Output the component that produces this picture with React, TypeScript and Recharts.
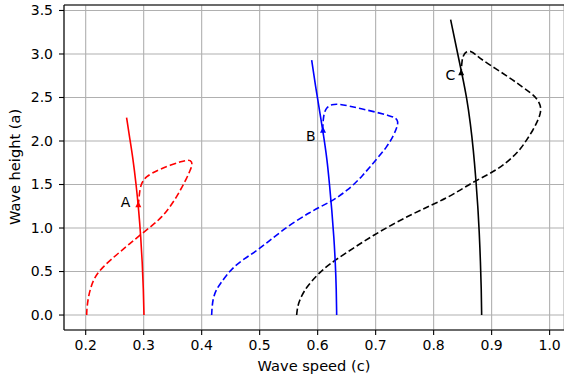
import React from 'react'
import {
  ComposedChart,
  Line,
  Scatter,
  XAxis,
  YAxis,
  CartesianGrid,
  ReferenceLine,
} from 'recharts'

if (typeof document !== 'undefined') document.body.style.margin = '0'

type Pt = { c: number; a: number }

const X_TICKS = [0.2, 0.3, 0.4, 0.5, 0.6, 0.7, 0.8, 0.9, 1.0]
const Y_TICKS = [0, 0.5, 1.0, 1.5, 2.0, 2.5, 3.0, 3.5]
const X_MIN = 0.1626
const X_MAX = 1.0248
const Y_MIN = -0.172
const Y_MAX = 3.563

const LABELS = ['A', 'B', 'C']

// solid branches
const solidA: Pt[] = [
  { c: 0.3005, a: 0 }, { c: 0.2995, a: 0.3 }, { c: 0.2976, a: 0.6 },
  { c: 0.295, a: 0.9 }, { c: 0.2915, a: 1.2 }, { c: 0.287, a: 1.5 },
  { c: 0.2815, a: 1.8 }, { c: 0.2755, a: 2.05 }, { c: 0.2705, a: 2.27 },
]
const solidB: Pt[] = [
  { c: 0.6328, a: 0 }, { c: 0.6322, a: 0.3 }, { c: 0.6305, a: 0.6 },
  { c: 0.628, a: 0.9 }, { c: 0.6245, a: 1.2 }, { c: 0.6205, a: 1.5 },
  { c: 0.616, a: 1.8 }, { c: 0.6105, a: 2.05 }, { c: 0.6045, a: 2.3 },
  { c: 0.597, a: 2.6 }, { c: 0.5897, a: 2.93 },
]
const solidC: Pt[] = [
  { c: 0.8828, a: 0 }, { c: 0.8822, a: 0.3 }, { c: 0.8808, a: 0.6 },
  { c: 0.8786, a: 0.97 }, { c: 0.8762, a: 1.25 }, { c: 0.873, a: 1.55 },
  { c: 0.8685, a: 1.9 }, { c: 0.8635, a: 2.2 }, { c: 0.857, a: 2.5 },
  { c: 0.8495, a: 2.75 }, { c: 0.84, a: 3.05 }, { c: 0.8293, a: 3.395 },
]

// dashed branches (start on the axis, loop back to the arrow)
const dashedA: Pt[] = [
  { c: 0.2017, a: 0 }, { c: 0.2019, a: 0.05 }, { c: 0.2025, a: 0.1 },
  { c: 0.2045, a: 0.2 }, { c: 0.208, a: 0.3 }, { c: 0.2131, a: 0.4 },
  { c: 0.2205, a: 0.48 }, { c: 0.2303, a: 0.555 }, { c: 0.244, a: 0.64 },
  { c: 0.259, a: 0.725 }, { c: 0.276, a: 0.82 }, { c: 0.294, a: 0.92 },
  { c: 0.317, a: 1.04 }, { c: 0.332, a: 1.13 }, { c: 0.345, a: 1.24 },
  { c: 0.357, a: 1.36 }, { c: 0.366, a: 1.47 }, { c: 0.374, a: 1.57 },
  { c: 0.38, a: 1.66 }, { c: 0.3835, a: 1.72 }, { c: 0.383, a: 1.765 },
  { c: 0.378, a: 1.785 }, { c: 0.365, a: 1.765 }, { c: 0.345, a: 1.72 },
  { c: 0.328, a: 1.675 }, { c: 0.314, a: 1.63 }, { c: 0.305, a: 1.59 },
  { c: 0.2995, a: 1.55 }, { c: 0.2955, a: 1.5 }, { c: 0.2935, a: 1.44 },
  { c: 0.292, a: 1.35 }, { c: 0.2907, a: 1.267 },
]
const dashedB: Pt[] = [
  { c: 0.4172, a: 0 }, { c: 0.4176, a: 0.05 }, { c: 0.418, a: 0.1 },
  { c: 0.42, a: 0.2 }, { c: 0.425, a: 0.29 }, { c: 0.432, a: 0.36 },
  { c: 0.442, a: 0.45 }, { c: 0.4545, a: 0.55 }, { c: 0.474, a: 0.65 },
  { c: 0.495, a: 0.74 }, { c: 0.515, a: 0.845 }, { c: 0.535, a: 0.95 },
  { c: 0.56, a: 1.07 }, { c: 0.5867, a: 1.18 }, { c: 0.605, a: 1.245 },
  { c: 0.621, a: 1.3 }, { c: 0.636, a: 1.36 }, { c: 0.65, a: 1.43 },
  { c: 0.664, a: 1.51 }, { c: 0.677, a: 1.6 }, { c: 0.69, a: 1.7 },
  { c: 0.704, a: 1.81 }, { c: 0.719, a: 1.93 }, { c: 0.73, a: 2.05 },
  { c: 0.737, a: 2.16 }, { c: 0.739, a: 2.225 }, { c: 0.734, a: 2.27 },
  { c: 0.724, a: 2.29 }, { c: 0.699, a: 2.335 }, { c: 0.675, a: 2.37 },
  { c: 0.653, a: 2.405 }, { c: 0.636, a: 2.425 }, { c: 0.624, a: 2.42 },
  { c: 0.616, a: 2.39 }, { c: 0.6115, a: 2.33 }, { c: 0.6095, a: 2.25 },
  { c: 0.6087, a: 2.123 },
]
const dashedC: Pt[] = [
  { c: 0.5638, a: 0 }, { c: 0.5642, a: 0.03 }, { c: 0.5648, a: 0.06 },
  { c: 0.5666, a: 0.13 }, { c: 0.573, a: 0.23 }, { c: 0.581, a: 0.32 },
  { c: 0.5983, a: 0.456 }, { c: 0.613, a: 0.545 }, { c: 0.6298, a: 0.629 },
  { c: 0.663, a: 0.775 }, { c: 0.6959, a: 0.916 }, { c: 0.73, a: 1.045 },
  { c: 0.7648, a: 1.166 }, { c: 0.795, a: 1.26 }, { c: 0.8224, a: 1.345 },
  { c: 0.847, a: 1.44 }, { c: 0.8683, a: 1.529 }, { c: 0.89, a: 1.6 },
  { c: 0.9086, a: 1.67 }, { c: 0.924, a: 1.745 }, { c: 0.9372, a: 1.82 },
  { c: 0.95, a: 1.91 }, { c: 0.96, a: 2.008 }, { c: 0.971, a: 2.12 },
  { c: 0.98, a: 2.238 }, { c: 0.985, a: 2.33 }, { c: 0.9845, a: 2.41 },
  { c: 0.978, a: 2.49 }, { c: 0.968, a: 2.55 }, { c: 0.953, a: 2.62 },
  { c: 0.937, a: 2.7 }, { c: 0.912, a: 2.81 }, { c: 0.884, a: 2.93 },
  { c: 0.873, a: 2.99 }, { c: 0.865, a: 3.035 }, { c: 0.856, a: 3.03 },
  { c: 0.8505, a: 2.98 }, { c: 0.8485, a: 2.9 }, { c: 0.8475, a: 2.784 },
]

// arrow markers and letter positions
const arrowPts: Pt[] = [
  { c: 0.2907, a: 1.267 }, { c: 0.6092, a: 2.123 }, { c: 0.8475, a: 2.784 },
]
const labelPts: Pt[] = [
  { c: 0.2686, a: 1.299 }, { c: 0.5881, a: 2.062 }, { c: 0.829, a: 2.759 },
]

const COLORS = ['#ff0000', '#0000ff', '#000000']
const SOLIDS = [solidA, solidB, solidC]
const DASHED = [dashedA, dashedB, dashedC]

const FONT = 'DejaVu Sans, sans-serif'
const FS = 14
const LABEL_FS = 14.6

const Triangle = (color: string) => (props: any) => {
  const { cx, cy } = props
  return (
    <polygon
      points={`${cx},${cy - 3.6} ${cx - 3},${cy + 2.4} ${cx + 3},${cy + 2.4}`}
      fill={color}
    />
  )
}

const Letter = (text: string) => (props: any) => {
  const { cx, cy } = props
  return (
    <text x={cx} y={cy} textAnchor="middle" dominantBaseline="central"
      fontFamily={FONT} fontSize={FS} fill="#000">
      {text}
    </text>
  )
}

export default function App() {
  return (
    <div style={{ width: 564, height: 383, background: '#fff' }}>
      <ComposedChart
        width={564}
        height={383}
        margin={{ top: 5, right: 0, bottom: 0, left: 0 }}
      >
        <CartesianGrid stroke="#b0b0b0" strokeWidth={1.1} />
        <XAxis
          dataKey="c"
          type="number"
          domain={[X_MIN, X_MAX]}
          ticks={X_TICKS}
          interval={0}
          allowDataOverflow
          height={53}
          tickSize={5}
          tickMargin={5}
          tickFormatter={(v: number) => v.toFixed(1)}
          axisLine={{ stroke: '#000', strokeWidth: 1.1 }}
          tickLine={{ stroke: '#000', strokeWidth: 1.1 }}
          tick={{ fill: '#000', fontSize: FS, fontFamily: FONT }}
          label={{
            value: 'Wave speed (c)',
            position: 'insideBottom',
            offset: 12,
            fill: '#000',
            fontSize: LABEL_FS,
            fontFamily: FONT,
          }}
        />
        <YAxis
          dataKey="a"
          type="number"
          domain={[Y_MIN, Y_MAX]}
          ticks={Y_TICKS}
          interval={0}
          allowDataOverflow
          width={64}
          tickSize={5}
          tickMargin={6}
          tickFormatter={(v: number) => v.toFixed(1)}
          axisLine={{ stroke: '#000', strokeWidth: 1.1 }}
          tickLine={{ stroke: '#000', strokeWidth: 1.1 }}
          tick={{ fill: '#000', fontSize: FS, fontFamily: FONT }}
        />
        <ReferenceLine y={Y_MAX} stroke="#000" strokeWidth={1.1} ifOverflow="visible" />

        {DASHED.map((d, i) => (
          <Line
            key={'d' + i}
            data={d}
            dataKey="a"
            type="basis"
            stroke={COLORS[i]}
            strokeWidth={1.6}
            strokeDasharray="6.5 3"
            dot={false}
            activeDot={false}
            isAnimationActive={false}
          />
        ))}
        {SOLIDS.map((d, i) => (
          <Line
            key={'s' + i}
            data={d}
            dataKey="a"
            type="basis"
            stroke={COLORS[i]}
            strokeWidth={1.6}
            dot={false}
            activeDot={false}
            isAnimationActive={false}
          />
        ))}
        {arrowPts.map((p, i) => (
          <Scatter
            key={'ar' + i}
            data={[p]}
            dataKey="a"
            shape={Triangle(COLORS[i])}
            isAnimationActive={false}
          />
        ))}
        {labelPts.map((p, i) => (
          <Scatter
            key={'lb' + i}
            data={[p]}
            dataKey="a"
            shape={Letter(LABELS[i])}
            isAnimationActive={false}
          />
        ))}
        <text
          x={20}
          y={167}
          transform="rotate(-90, 20, 167)"
          textAnchor="middle"
          fontFamily={FONT}
          fontSize={LABEL_FS}
          fill="#000"
        >
          Wave height (a)
        </text>
      </ComposedChart>
    </div>
  )
}
